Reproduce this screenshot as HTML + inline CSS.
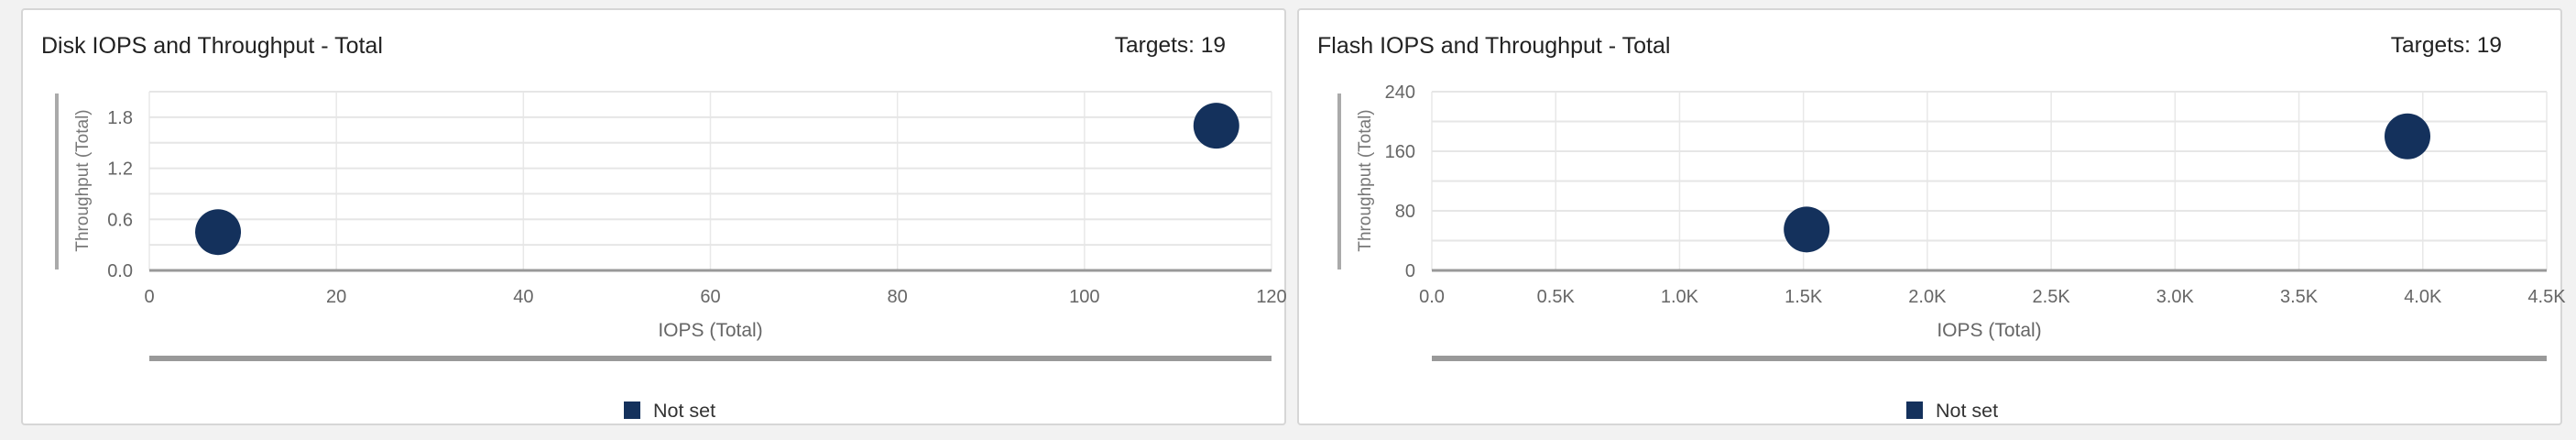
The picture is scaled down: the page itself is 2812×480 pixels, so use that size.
<!DOCTYPE html>
<html><head><meta charset="utf-8"><style>
html,body{margin:0;padding:0;background:#f2f2f2;width:2812px;height:480px;overflow:hidden;font-family:"Liberation Sans",sans-serif}
.panel{position:absolute;top:9px;width:1381px;height:455px;background:#fff;border:2px solid #d6d6d6;border-radius:4px;box-sizing:border-box}
.title{position:absolute;left:20px;top:25px;font-size:25px;color:#222}
.targets{position:absolute;right:64px;top:25px;font-size:24.5px;color:#222}
svg{position:absolute;left:0;top:0}
</style></head><body>
<div class="panel" style="left:23px">
 <div class="title">Disk IOPS and Throughput - Total</div>
 <div class="targets">Targets: 19</div>
</div>
<div class="panel" style="left:1416px">
 <div class="title">Flash IOPS and Throughput - Total</div>
 <div class="targets">Targets: 19</div>
</div>
<svg id="chart" width="2812" height="480"></svg>
<script>
const diskX=[7.35,114.1];
const diskY=[0.45,1.70];
const diskXTicks=[0,20,40,60,80,100,120];
const diskXTickLabels=["0","20","40","60","80","100","120"];
const diskYGrid=[0,0.3,0.6,0.9,1.2,1.5,1.8,2.1];
const diskYTicks=[0,0.6,1.2,1.8];
const diskYTickLabels=["0.0","0.6","1.2","1.8"];
const flashX=[1513,3938];
const flashY=[55,180];
const flashXTicks=[0,500,1000,1500,2000,2500,3000,3500,4000,4500];
const flashXTickLabels=["0.0","0.5K","1.0K","1.5K","2.0K","2.5K","3.0K","3.5K","4.0K","4.5K"];
const flashYGrid=[0,40,80,120,160,200,240];
const flashYTicks=[0,80,160,240];
const flashYTickLabels=["0","80","160","240"];

const NS="http://www.w3.org/2000/svg";
const svg=document.getElementById('chart');
function mk(tag,attrs,parent){const e=document.createElementNS(NS,tag);for(const k in attrs)e.setAttribute(k,attrs[k]);(parent||svg).appendChild(e);return e;}
function draw(prefix,ox,pw,xs,ys,xT,xTL,yG,yT,yTL,xMax,yMax){
 const L=ox+163,R=ox+163+pw,T=100,B=295;
 const sx=v=>L+(v/xMax)*(R-L), sy=v=>B-(v/yMax)*(B-T);
 const g=mk('g',{});
 
 
 xT.forEach((v,i)=>{
  const l=mk('line',{x1:sx(v),x2:sx(v),y1:T,y2:B,stroke:'#e8e8e8','stroke-width':1.5},g);
  
  
  const t=mk('text',{x:sx(v),y:330,'text-anchor':'middle','font-size':20,fill:'#666'},g);
  
  
  t.textContent=xTL[i];
 });
 yG.forEach(v=>{
  const l=mk('line',{x1:L,x2:R,y1:sy(v),y2:sy(v),stroke:'#e6e6e6','stroke-width':2},g);
  
  
 });
 yT.forEach((v,i)=>{
  const t=mk('text',{x:L-18,y:sy(v)+7,'text-anchor':'end','font-size':20,fill:'#666'},g);
  
  
  t.textContent=yTL[i];
 });
 const ax=mk('line',{x1:L,x2:R,y1:B,y2:B,stroke:'#999','stroke-width':3},g);
 
 
 const yb=mk('rect',{x:ox+60,y:102,width:4,height:192,fill:'#aaa'},g);
 
 
 const yt=mk('text',{x:0,y:0,transform:`translate(${ox+96},197) rotate(-90)`,'text-anchor':'middle','font-size':19,fill:'#777'},g);
 
 
 yt.textContent='Throughput (Total)';
 const xt=mk('text',{x:(L+R)/2,y:367,'text-anchor':'middle','font-size':21,fill:'#666'},g);
 
 
 xt.textContent='IOPS (Total)';
 const sb=mk('rect',{x:L,y:388,width:R-L,height:6,fill:'#999'},g);
 
 
 xs.forEach((v,i)=>{
  const c=mk('circle',{cx:sx(v),cy:sy(ys[i]),r:25,fill:'#14315c'},g);
  
  
 });
 const lg=mk('rect',{x:ox+681,y:438,width:18,height:19,fill:'#14315c'},g);
 
 
 const lt=mk('text',{x:ox+713,y:455,'font-size':21.5,fill:'#333'},g);
 
 
 lt.textContent='Not set';
}
draw('disk',0,1225,diskX,diskY,diskXTicks,diskXTickLabels,diskYGrid,diskYTicks,diskYTickLabels,120,2.1);
draw('flash',1400,1217,flashX,flashY,flashXTicks,flashXTickLabels,flashYGrid,flashYTicks,flashYTickLabels,4500,240);
</script>
</body></html>
